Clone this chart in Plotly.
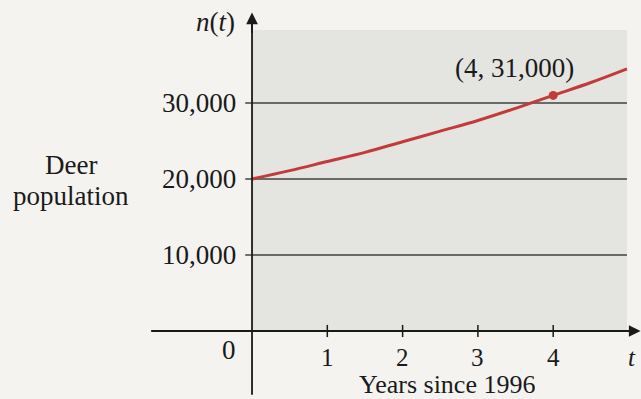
import plotly.graph_objects as go

# Data
t_vals = [0, 0.5, 1, 1.5, 2, 2.5, 3, 3.5, 4, 4.5, 4.98]
n_vals = [20000, 21100, 22300, 23500, 24900, 26300, 27700, 29300, 31000, 32700, 34500]
point_t = [4]
point_n = [31000]
point_label = "(4, 31,000)"
y_ticks = [10000, 20000, 30000]
y_tick_labels = ["10,000", "20,000", "30,000"]
x_ticks = [1, 2, 3, 4]
x_tick_labels = ["1", "2", "3", "4"]

RED = "#c23a3a"
INK = "#1a1a1a"
GRID = "#3f4540"
FONT = "Liberation Serif"
FS = 27

fig = go.Figure()
fig.add_trace(go.Scatter(x=t_vals, y=n_vals, mode="lines",
                         line=dict(color=RED, width=3, shape="spline"),
                         hoverinfo="skip"))
fig.add_trace(go.Scatter(x=point_t, y=point_n, mode="markers",
                         marker=dict(color=RED, size=9), hoverinfo="skip"))

shapes = []
shapes.append(dict(type="rect", xref="x", yref="y", x0=0, x1=4.98, y0=0, y1=39600,
                   fillcolor="#e4e4e1", line=dict(width=0), layer="below"))
for v in y_ticks:
    shapes.append(dict(type="line", xref="x", yref="y", x0=-0.09, x1=4.98, y0=v, y1=v,
                       line=dict(color=GRID, width=1.3), layer="below"))
for v in x_ticks:
    shapes.append(dict(type="line", xref="x", yref="y", x0=v, x1=v, y0=-800, y1=800,
                       line=dict(color=INK, width=1.5), layer="below"))
shapes.append(dict(type="line", xref="x", yref="y", x0=-1.34, x1=5.0, y0=0, y1=0,
                   line=dict(color=INK, width=1.8)))
shapes.append(dict(type="line", xref="x", yref="y", x0=0, x1=0, y0=-8400, y1=41000,
                   line=dict(color=INK, width=1.8)))

annotations = []
annotations.append(dict(x=5.16, y=0, ax=4.9, ay=0, xref="x", yref="y", axref="x", ayref="y",
                        showarrow=True, arrowhead=2, arrowsize=1.3, arrowwidth=1.8,
                        arrowcolor=INK, text=""))
annotations.append(dict(x=0, y=41900, ax=0, ay=39000, xref="x", yref="y", axref="x", ayref="y",
                        showarrow=True, arrowhead=2, arrowsize=1.3, arrowwidth=1.8,
                        arrowcolor=INK, text=""))
for v, lab in zip(y_ticks, y_tick_labels):
    annotations.append(dict(x=-0.18, y=v, xref="x", yref="y", text=lab, showarrow=False,
                            xanchor="right", yanchor="middle",
                            font=dict(family=FONT, size=FS, color=INK)))
annotations.append(dict(x=-0.18, y=-2500, xref="x", yref="y", text="0", showarrow=False,
                        xanchor="right", yanchor="middle",
                        font=dict(family=FONT, size=FS, color=INK)))
for v, lab in zip(x_ticks, x_tick_labels):
    annotations.append(dict(x=v, y=-3400, xref="x", yref="y", text=lab, showarrow=False,
                            xanchor="center", yanchor="middle", height=24, borderpad=0,
                            font=dict(family=FONT, size=25, color=INK)))
annotations.append(dict(x=5.04, y=-3400, xref="x", yref="y", text="<i>t</i>", showarrow=False,
                        xanchor="center", yanchor="middle", height=24, borderpad=0,
                        font=dict(family=FONT, size=25, color=INK)))
annotations.append(dict(x=2.59, y=-7000, xref="x", yref="y", text="Years since 1996",
                        showarrow=False, xanchor="center", yanchor="middle", height=24,
                        borderpad=0,
                        font=dict(family=FONT, size=26, color=INK)))
annotations.append(dict(x=-0.2, y=40600, xref="x", yref="y", text="<i>n</i>(<i>t</i>)",
                        showarrow=False, xanchor="right", yanchor="middle",
                        font=dict(family=FONT, size=FS, color=INK)))
annotations.append(dict(x=-2.4, y=21800, xref="x", yref="y", text="Deer",
                        showarrow=False, xanchor="center", yanchor="middle",
                        font=dict(family=FONT, size=FS, color=INK)))
annotations.append(dict(x=-2.4, y=17800, xref="x", yref="y", text="population",
                        showarrow=False, xanchor="center", yanchor="middle",
                        font=dict(family=FONT, size=FS, color=INK)))
annotations.append(dict(x=3.49, y=34600, xref="x", yref="y", text=point_label,
                        showarrow=False, xanchor="center", yanchor="middle",
                        font=dict(family=FONT, size=FS, color=INK)))

fig.update_layout(
    width=641, height=399,
    margin=dict(l=0, r=0, t=0, b=0),
    paper_bgcolor="#f4f3f0", plot_bgcolor="#f4f3f0",
    showlegend=False,
    xaxis=dict(range=[-3.347, 5.166], visible=False, fixedrange=True),
    yaxis=dict(range=[-8947, 43553], visible=False, fixedrange=True),
    shapes=shapes, annotations=annotations,
)
fig.write_html("out.html", config={"displayModeBar": False},
               post_script="document.body.style.margin='0';document.body.style.overflow='hidden';")
